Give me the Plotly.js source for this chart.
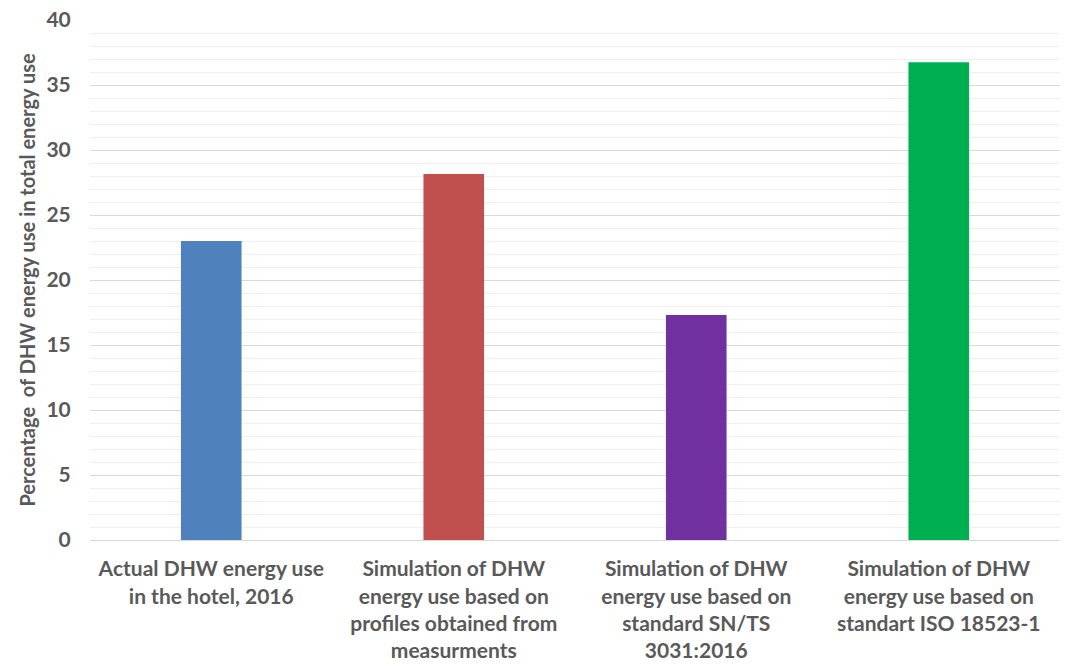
<!DOCTYPE html>
<html>
<head>
<meta charset="utf-8">
<script src="https://cdn.plot.ly/plotly-3.0.1.min.js"></script>
<style>html,body{margin:0;padding:0;background:#fff;}#chart{width:1068px;height:666px;}</style>
</head>
<body>
<div id="chart"></div>
<script>
const categories = [
  "Actual DHW energy use<br>in the hotel, 2016",
  "Simulation of DHW<br>energy use based on<br>profiles obtained from<br>measurments",
  "Simulation of DHW<br>energy use based on<br>standard SN/TS<br>3031:2016",
  "Simulation of DHW<br>energy use based on<br>standart ISO 18523-1"
];
const values = [23.0, 28.15, 17.3, 36.75];
const barColors = ["#4f81bd", "#c0504d", "#7030a0", "#00b050"];
const yTitle = "Percentage  of DHW energy use in total energy use";

const fontFam = "Lato, 'Open Sans', sans-serif";
Plotly.newPlot("chart", [{
  type: "bar",
  x: categories,
  y: values,
  marker: {color: barColors},
  hoverinfo: "none"
}], {
  width: 1068, height: 666,
  margin: {l: 90, r: 8, t: 20, b: 126},
  paper_bgcolor: "#fff", plot_bgcolor: "#fff",
  bargap: 0.75,
  showlegend: false,
  font: {family: fontFam, color: "#595959"},
  xaxis: {
    tickfont: {size: 21, weight: "bold", color: "#595959"},
    showline: true, linecolor: "#d9d9d9", linewidth: 1,
    ticks: "outside", ticklen: 10, tickcolor: "rgba(0,0,0,0)", fixedrange: true
  },
  yaxis: {
    range: [0, 40], dtick: 5,
    tickfont: {size: 21, weight: "bold", color: "#595959"},
    gridcolor: "#d9d9d9", gridwidth: 1,
    zeroline: false,
    ticks: "outside", ticklen: 14, tickcolor: "rgba(0,0,0,0)",
    minor: {dtick: 1, showgrid: true, gridcolor: "#efefef", gridwidth: 1, ticks: ""},
    title: {text: yTitle, font: {size: 20, weight: "bold", color: "#595959"}, standoff: 5}
  }
}, {displayModeBar: false, staticPlot: true});
</script>
</body>
</html>
